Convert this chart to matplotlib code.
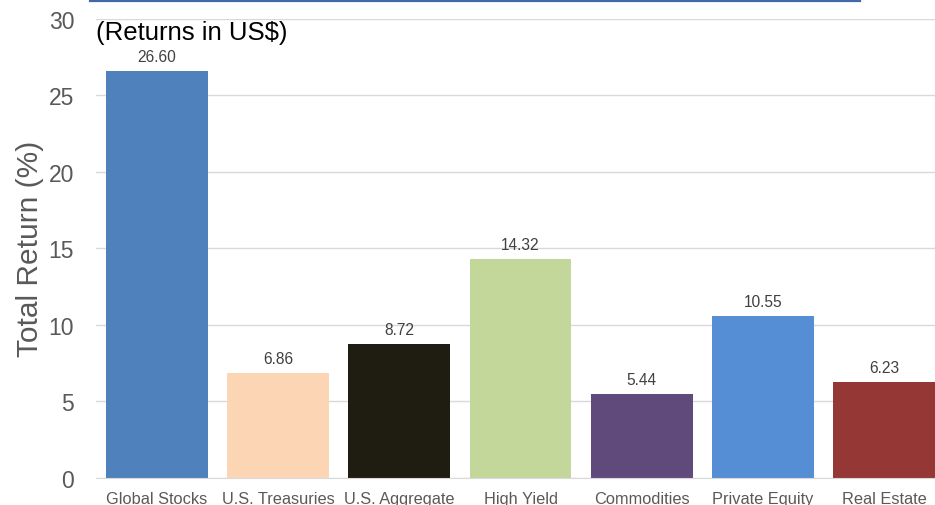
import matplotlib.pyplot as plt
from matplotlib.lines import Line2D

plt.rcParams["font.family"] = ["Liberation Sans", "DejaVu Sans"]

categories = ["Global Stocks", "U.S. Treasuries", "U.S. Aggregate", "High Yield",
              "Commodities", "Private Equity", "Real Estate"]
returns = [26.60, 6.86, 8.72, 14.32, 5.44, 10.55, 6.23]
colors = ["#4F81BD", "#FCD5B5", "#1F1C12", "#C4D79B", "#604A7B", "#558ED5", "#953735"]

fig = plt.figure(figsize=(9.35, 5.06), dpi=100)
ax = fig.add_axes([0.1031, 0.0543, 0.9072, 0.9061])

x = range(len(categories))
bars = ax.bar(x, returns, width=0.84, color=colors, zorder=2)
for rect, val in zip(bars, returns):
    ax.annotate(f"{val:.2f}", (rect.get_x() + rect.get_width() / 2, val),
                xytext=(0, 5), textcoords="offset points", ha="center", va="bottom",
                fontsize=11.2, color="#404040")

ax.set_xlim(-0.5, len(categories) - 0.5)
ax.set_ylim(0, 30)
ax.set_yticks(range(0, 31, 5))
ax.set_xticks(list(x))
ax.set_xticklabels(categories)
ax.tick_params(axis="x", length=0, pad=10, labelsize=11.8, labelcolor="#595959")
ax.tick_params(axis="y", length=0, pad=16, labelsize=16.5, labelcolor="#595959")
ax.grid(axis="y", color="#D9D9D9", linewidth=1, zorder=0)
for side in ["top", "right", "left"]:
    ax.spines[side].set_visible(False)
ax.spines["bottom"].set_color("#D9D9D9")
ax.set_ylabel("Total Return (%)", fontsize=21.5, color="#595959")
ax.yaxis.set_label_coords(-0.062, 0.5)

ax.text(0.0, 0.972, "(Returns in US$)", transform=ax.transAxes, ha="left", va="center",
        fontsize=18.5, color="#000000")

fig.add_artist(Line2D([0.0963, 0.9198], [0.997, 0.997], transform=fig.transFigure,
                      color="#4169AA", linewidth=1.6))

fig.savefig("out.png", dpi=100)
